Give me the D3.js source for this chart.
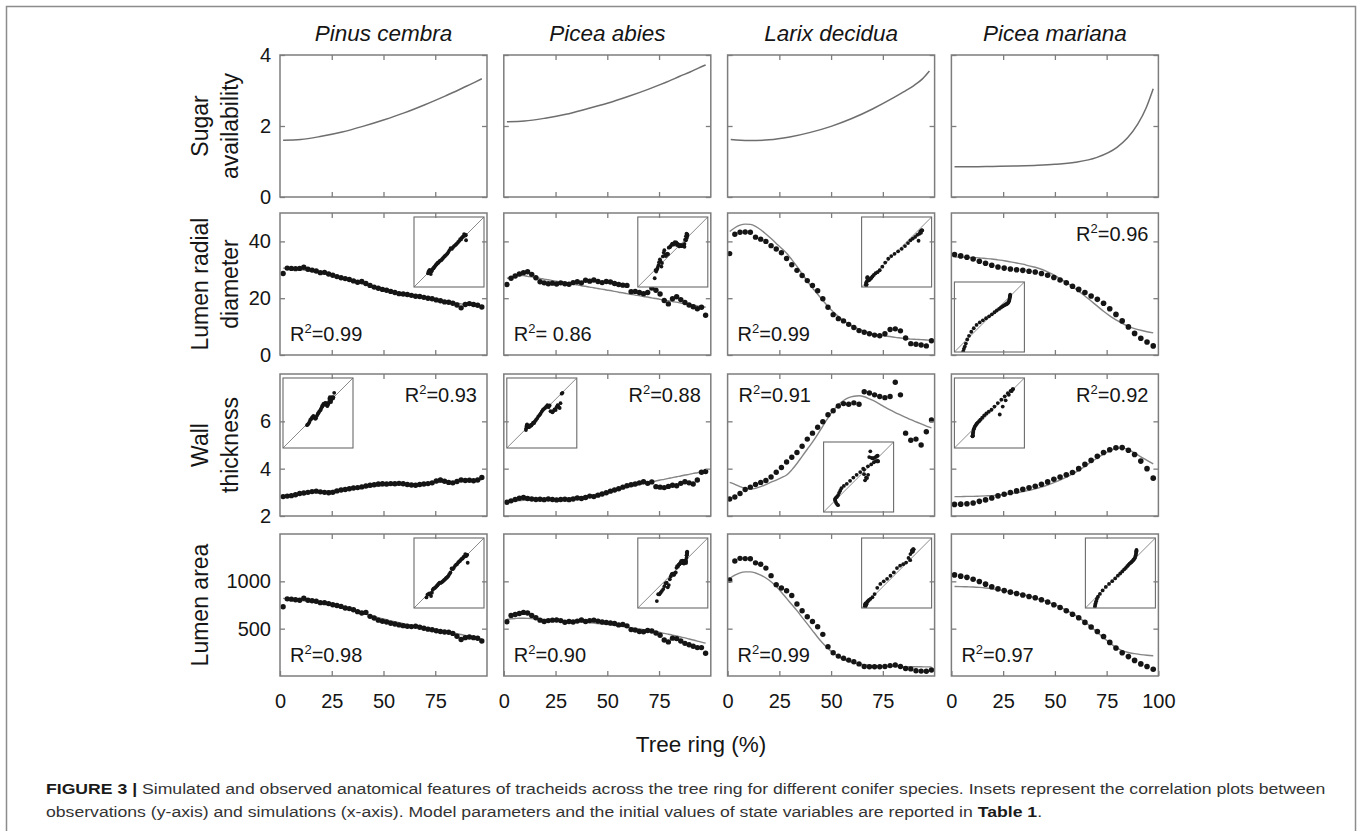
<!DOCTYPE html>
<html><head><meta charset="utf-8">
<script src="https://cdn.jsdelivr.net/npm/d3@7"></script>
<style>body{margin:0;background:#fff}svg{display:block}</style>
</head><body><svg id="chart" width="1362" height="831"></svg>
<script>
// ---------------- DATA ----------------
const species = ["Pinus cembra", "Picea abies", "Larix decidua", "Picea mariana"];
const rowLabels = [["Sugar", "availability"], ["Lumen radial", "diameter"], ["Wall", "thickness"], ["Lumen area"]];
const yDomains = [[0, 4], [0, 50], [2, 8], [0, 1500]];
const yTickLabels = [[0, 2, 4], [0, 20, 40], [2, 4, 6], [500, 1000]];
const xTickLabels = [0, 25, 50, 75];
const xTickLabelsLast = [0, 25, 50, 75, 100];
const xTitle = "Tree ring (%)";
const r2Values = [["=0.99", "= 0.86", "=0.99", "=0.96"], ["=0.93", "=0.88", "=0.91", "=0.92"], ["=0.98", "=0.90", "=0.99", "=0.97"]];

// sugar availability (simulated only)
const sugarX = [1.5, 10, 20, 30, 40, 50, 60, 70, 80, 85, 90, 94, 97.5];
const sugarPinusCembra = [1.60, 1.62, 1.71, 1.83, 1.99, 2.17, 2.37, 2.60, 2.85, 2.98, 3.12, 3.23, 3.33];
const sugarPiceaAbies = [2.12, 2.14, 2.22, 2.33, 2.48, 2.64, 2.83, 3.04, 3.27, 3.40, 3.52, 3.63, 3.72];
const sugarLarix = [1.62, 1.59, 1.61, 1.69, 1.82, 1.99, 2.21, 2.48, 2.79, 2.96, 3.14, 3.32, 3.55];
const sugarMariana = [0.85, 0.85, 0.86, 0.87, 0.89, 0.92, 0.98, 1.11, 1.40, 1.66, 2.05, 2.50, 3.05];

// tree-ring positions of observed cells
const xDense = [1.5,3.5,5.5,7.5,9.5,11.5,13.5,15.5,17.5,19.5,21.5,23.5,25.5,27.5,29.5,31.5,33.5,35.5,37.5,39.5,41.5,43.5,45.5,47.5,49.5,51.5,53.5,55.5,57.5,59.5,61.5,63.5,65.5,67.5,69.5,71.5,73.5,75.5,77.5,79.5,81.5,83.5,85.5,87.5,89.5,91.5,93.5,95.5,97.5];
const xLarix = [1,3.5,6,8.5,11,13.5,16,18.5,21,23.5,26,28.5,31,33.5,36,38.5,41,43.5,46,48.5,51,53.5,56,58.5,61,63.5,66,68.5,71,73.5,76,78.5,81,83.5,86,88.5,91,93.5,96,98.5];
const xMariana = [1.5,4.5,7.5,10.5,13.5,16.5,19.5,22.5,25.5,28.5,31.5,34.5,37.5,40.5,43.5,46.5,49.5,52.5,55.5,58.5,61.5,64.5,67.5,70.5,73.5,76.5,79.5,82.5,85.5,88.5,91.5,94.5,97.5];

// Pinus cembra
const pcLrdObs = [28.7,30.6,30.5,30.4,30.5,30.9,30.2,29.9,29.6,29.0,29.1,28.5,28.1,27.6,27.2,26.9,26.6,26.1,25.6,25.9,25.2,24.5,23.9,23.5,23.1,22.8,22.4,22.0,21.6,21.5,21.3,21.0,20.7,20.6,20.3,20.0,19.8,19.4,19.1,18.7,18.6,18.2,17.6,16.6,17.8,18.1,17.8,17.5,16.9];
const pcLrdSim = [30.6,30.5,30.4,30.3,30.1,29.9,29.7,29.4,29.1,28.8,28.5,28.2,27.8,27.4,27.0,26.7,26.3,25.9,25.5,25.1,24.7,24.3,23.9,23.5,23.1,22.8,22.4,22.1,21.8,21.5,21.2,20.9,20.7,20.4,20.2,20.0,19.7,19.5,19.2,19.0,18.8,18.5,18.3,18.0,17.8,17.6,17.4,17.2,17.0];
const pcWtObs = [2.82,2.84,2.86,2.90,2.95,2.97,3.00,3.03,3.05,3.02,3.00,2.98,3.00,3.06,3.10,3.12,3.15,3.18,3.20,3.23,3.27,3.30,3.32,3.35,3.36,3.35,3.37,3.36,3.38,3.36,3.33,3.31,3.30,3.33,3.35,3.37,3.40,3.48,3.52,3.47,3.42,3.40,3.46,3.52,3.50,3.51,3.49,3.52,3.63];
const pcWtSim = [2.85,2.87,2.89,2.91,2.93,2.95,2.97,2.99,3.01,3.02,3.04,3.06,3.08,3.10,3.12,3.13,3.15,3.17,3.19,3.20,3.22,3.23,3.25,3.26,3.28,3.29,3.30,3.31,3.32,3.33,3.34,3.35,3.36,3.37,3.38,3.39,3.40,3.41,3.42,3.43,3.44,3.45,3.46,3.47,3.48,3.49,3.50,3.51,3.53];
const pcLaObs = [732,815,812,805,800,822,800,795,790,775,775,765,752,745,735,718,712,700,680,665,672,630,612,590,578,570,558,550,540,532,525,522,525,515,505,495,488,478,470,465,462,450,420,385,405,412,405,398,370];
const pcLaSim = [820,815,810,805,800,795,789,782,775,767,759,750,741,731,721,710,699,688,676,664,652,640,628,616,605,594,583,573,563,553,544,535,527,519,511,503,495,487,479,471,463,455,447,438,429,420,410,400,390];

// Picea abies
const paLrdObs = [24.8,27.0,27.8,28.5,29.0,29.3,28.4,27.2,25.8,25.4,25.1,25.3,25.0,25.4,25.1,24.9,25.5,25.8,25.4,26.3,26.0,26.4,25.9,25.5,25.9,25.7,25.2,24.8,24.6,24.5,22.3,22.4,22.0,21.6,22.0,23.6,22.8,21.5,19.2,18.0,19.8,20.5,19.5,18.5,17.6,17.0,16.3,16.8,14.0];
const paLrdSim = [27.0,27.5,27.8,28.0,28.0,27.7,27.5,27.2,27.0,26.7,26.5,26.2,26.0,25.7,25.5,25.2,24.9,24.7,24.4,24.2,23.9,23.7,23.4,23.2,22.9,22.7,22.4,22.1,21.9,21.6,21.4,21.1,20.9,20.6,20.4,20.1,19.9,19.6,19.3,19.1,18.8,18.6,18.3,18.1,17.8,17.6,17.3,17.1,16.8];
const paWtObs = [2.58,2.64,2.70,2.75,2.78,2.74,2.72,2.70,2.71,2.69,2.72,2.70,2.68,2.70,2.71,2.69,2.72,2.76,2.74,2.78,2.84,2.82,2.88,2.93,2.98,3.05,3.10,3.15,3.22,3.28,3.32,3.35,3.40,3.45,3.38,3.44,3.24,3.22,3.20,3.25,3.30,3.28,3.38,3.45,3.40,3.35,3.52,3.85,3.88];
const paWtSim = [2.62,2.63,2.64,2.65,2.66,2.66,2.67,2.67,2.68,2.68,2.69,2.70,2.71,2.72,2.73,2.75,2.77,2.79,2.81,2.84,2.87,2.90,2.93,2.97,3.01,3.05,3.09,3.13,3.17,3.21,3.25,3.29,3.33,3.37,3.41,3.45,3.48,3.52,3.55,3.59,3.62,3.66,3.69,3.73,3.76,3.80,3.83,3.87,3.90];
const paLaObs = [573,640,650,660,672,665,640,615,590,575,585,590,592,585,568,575,570,580,592,575,585,590,580,570,565,560,555,540,545,530,490,485,470,468,480,475,455,430,380,360,400,395,370,345,330,315,300,300,240];
const paLaSim = [600,605,608,610,610,609,607,604,601,598,595,592,589,586,583,580,577,574,571,567,563,559,555,550,545,540,535,529,523,517,511,504,497,490,483,475,467,459,450,441,432,422,412,402,391,380,369,358,346];

// Larix decidua
const ldLrdObs = [35.7,42.5,43.2,43.3,43.2,41.5,40.8,40.0,38.5,37.3,36.0,34.0,31.8,29.8,28.0,26.2,24.5,22.6,19.8,16.8,14.2,12.8,12.0,10.8,9.7,8.6,8.0,7.5,7.0,6.8,7.5,9.0,9.2,8.5,6.0,4.0,3.8,3.5,3.2,5.0];
const ldLrdSim = [43.5,44.8,45.7,46.1,46.0,45.3,44.1,42.6,41.0,39.3,37.6,35.8,33.6,31.2,28.6,26.0,23.6,21.4,19.2,17.1,15.2,13.6,12.2,10.9,9.9,9.1,8.4,7.8,7.4,7.0,6.7,6.5,6.2,6.0,5.8,5.6,5.5,5.4,5.3,5.2];
const ldWtObs = [2.72,2.80,2.95,3.12,3.22,3.33,3.42,3.50,3.65,3.85,4.05,4.28,4.48,4.68,4.95,5.25,5.50,5.75,5.98,6.28,6.45,6.65,6.75,6.72,6.78,6.72,7.25,7.20,7.12,7.05,7.00,7.05,7.65,7.12,5.50,5.20,5.25,5.00,5.56,6.06];
const ldWtSim = [3.42,3.34,3.24,3.17,3.14,3.17,3.24,3.33,3.43,3.52,3.62,3.73,3.95,4.22,4.52,4.82,5.12,5.45,5.80,6.15,6.45,6.70,6.88,7.00,7.06,7.08,7.04,6.95,6.85,6.73,6.60,6.48,6.37,6.27,6.17,6.07,5.98,5.89,5.80,5.72];
const ldLaObs = [1014,1215,1243,1240,1238,1195,1180,1140,1060,965,930,900,850,760,690,626,575,520,440,310,245,210,187,168,151,128,100,98,97,98,100,110,116,100,80,75,55,52,50,63];
const ldLaSim = [1030,1065,1090,1100,1100,1088,1065,1035,995,945,885,820,755,690,620,550,480,410,345,290,245,205,175,155,140,128,120,114,110,106,104,102,100,99,98,98,97,97,96,96];

// Picea mariana
const pmLrdObs = [35.4,34.9,34.4,33.8,33.0,32.3,31.6,31.0,30.6,30.3,30.0,29.8,29.5,29.2,28.7,28.1,27.3,26.4,25.4,24.2,23.1,22.0,20.8,19.6,18.2,16.3,14.3,12.0,9.9,7.6,5.9,4.6,3.2];
const pmLrdSim = [34.5,34.5,34.4,34.3,34.2,34.0,33.8,33.5,33.2,32.8,32.4,32.0,31.4,30.9,30.2,29.3,28.2,26.9,25.6,24.1,22.5,20.8,19.0,17.2,15.4,13.8,12.4,11.1,10.1,9.3,8.7,8.2,7.8];
const pmWtObs = [2.49,2.50,2.52,2.55,2.62,2.68,2.76,2.85,2.92,2.99,3.06,3.13,3.19,3.26,3.34,3.44,3.55,3.65,3.74,3.84,4.00,4.18,4.35,4.52,4.68,4.80,4.88,4.89,4.78,4.60,4.32,4.00,3.60];
const pmWtSim = [2.82,2.82,2.83,2.83,2.84,2.85,2.86,2.88,2.91,2.94,2.98,3.03,3.08,3.15,3.22,3.31,3.41,3.52,3.64,3.78,3.93,4.10,4.28,4.45,4.61,4.75,4.85,4.88,4.80,4.66,4.50,4.35,4.20];
const pmLaObs = [1068,1055,1042,1022,998,970,942,920,902,886,872,855,840,827,806,782,752,724,690,653,615,566,518,470,418,355,295,245,205,165,128,100,72];
const pmLaSim = [945,944,942,940,936,930,922,912,900,887,873,858,842,824,804,782,757,728,695,658,617,570,518,462,405,350,302,268,248,236,226,219,214];

// inset (observed vs simulated) axis ranges
const insetDomains = [
  [[12, 37], [11, 35], [2, 53], [2.8, 42.6]],
  [[2.25, 4.0], [1.95, 4.4], [2.1, 8.5], [1.9, 5.45]],
  [[260, 990], [180, 790], [20, 1475], [47, 1277]]
];

const captionLine1Bold = "FIGURE 3 |";
const captionLine1 = " Simulated and observed anatomical features of tracheids across the tree ring for different conifer species. Insets represent the correlation plots between";
const captionLine2a = "observations (y-axis) and simulations (x-axis). Model parameters and the initial values of state variables are reported in ";
const captionLine2Bold = "Table 1";
const captionLine2b = ".";

// ---------------- ASSEMBLY ----------------
const sugarSeries = [sugarPinusCembra, sugarPiceaAbies, sugarLarix, sugarMariana];
const colX = [xDense, xDense, xLarix, xMariana];
const obsSeries = [
  [pcLrdObs, paLrdObs, ldLrdObs, pmLrdObs],
  [pcWtObs, paWtObs, ldWtObs, pmWtObs],
  [pcLaObs, paLaObs, ldLaObs, pmLaObs]
];
const simSeries = [
  [pcLrdSim, paLrdSim, ldLrdSim, pmLrdSim],
  [pcWtSim, paWtSim, ldWtSim, pmWtSim],
  [pcLaSim, paLaSim, ldLaSim, pmLaSim]
];

// ---------------- LAYOUT ----------------
const FONT = "'Liberation Sans', Arial, Helvetica, sans-serif";
const FRAME = "#7d7d7d";
const INK = "#151515";
const colLeft0 = 280, colStep = 223.8, panelW = 207, panelH = 142;
const rowTops = [55, 213, 374, 534];
const insetSize = 70;
const insetPlace = [["tr", "tr", "tr", "bl"], ["tl", "tl", "mid", "tl"], ["tr", "tr", "tr", "tr"]];
const insetOffsets = {tr: [134, 4], tl: [3, 4], bl: [3, 69], mid: [96, 68]};
const r2Place = [["bl", "bl", "bl", "tr"], ["tr", "tr", "tl", "tr"], ["bl", "bl", "bl", "bl"]];

const svg = d3.select("#chart");
svg.append("rect").attr("width", 1362).attr("height", 831).attr("fill", "#fff");
svg.append("rect").attr("x", 6.5).attr("y", 6.5).attr("width", 1349).attr("height", 900)
  .attr("fill", "none").attr("stroke", "#8c8c8c").attr("stroke-width", 1.5);

const x = d3.scaleLinear().domain([0, 100]).range([0, panelW]);

function styleAxis(g) {
  g.select(".domain").remove();
  g.selectAll(".tick line").attr("stroke", FRAME).attr("stroke-width", 1.3);
  g.selectAll("text").attr("font-family", FONT).attr("font-size", 20).attr("fill", INK);
  g.attr("font-family", FONT);
}

for (let c = 0; c < 4; c++) {
  const left = colLeft0 + c * colStep;
  svg.append("text").attr("x", left + panelW / 2).attr("y", 41).attr("text-anchor", "middle")
    .attr("font-family", FONT).attr("font-style", "italic").attr("font-size", 22.5).attr("fill", INK)
    .text(species[c]);

  for (let r = 0; r < 4; r++) {
    const top = rowTops[r];
    const y = d3.scaleLinear().domain(yDomains[r]).range([panelH, 0]);
    const g = svg.append("g").attr("transform", `translate(${left},${top})`);
    g.append("rect").attr("width", panelW).attr("height", panelH).attr("fill", "#fff");

    if (r === 0) {
      const pts = sugarX.map((v, i) => [v, sugarSeries[c][i]]);
      g.append("path").datum(pts).attr("fill", "none").attr("stroke", "#6e6e6e").attr("stroke-width", 1.5)
        .attr("d", d3.line().x(d => x(d[0])).y(d => y(d[1])).curve(d3.curveMonotoneX));
    } else {
      const k = r - 1;
      const xs = colX[c], obs = obsSeries[k][c], sim = simSeries[k][c];
      const n = Math.min(xs.length, obs.length, sim.length);
      const rows = d3.range(n).map(i => ({x: xs[i], obs: obs[i], sim: sim[i]}));
      g.append("path").datum(rows).attr("fill", "none").attr("stroke", "#858585").attr("stroke-width", 1.4)
        .attr("d", d3.line().x(d => x(d.x)).y(d => y(d.sim)).curve(d3.curveMonotoneX));
      g.append("g").selectAll("circle").data(rows).join("circle")
        .attr("cx", d => x(d.x)).attr("cy", d => y(d.obs)).attr("r", c === 3 ? 2.8 : 2.7).attr("fill", INK);

      // inset: observed (y) vs simulated (x)
      const off = insetOffsets[insetPlace[k][c]];
      const dom = insetDomains[k][c];
      const s = d3.scaleLinear().domain(dom).range([0, insetSize]);
      const sy = d3.scaleLinear().domain(dom).range([insetSize, 0]);
      const ig = g.append("g").attr("transform", `translate(${off[0]},${off[1]})`);
      const clipId = `clip-${k}-${c}`;
      ig.append("clipPath").attr("id", clipId).append("rect").attr("width", insetSize).attr("height", insetSize);
      ig.append("rect").attr("width", insetSize).attr("height", insetSize).attr("fill", "#fff");
      const inner = ig.append("g").attr("clip-path", `url(#${clipId})`);
      inner.append("line").attr("x1", s(dom[0])).attr("y1", sy(dom[0]))
        .attr("x2", s(dom[1])).attr("y2", sy(dom[1]))
        .attr("stroke", "#8a8a8a").attr("stroke-width", 1);
      inner.selectAll("circle").data(rows).join("circle")
        .attr("cx", d => s(d.sim)).attr("cy", d => sy(d.obs)).attr("r", 1.9).attr("fill", INK);
      ig.append("rect").attr("width", insetSize).attr("height", insetSize).attr("fill", "none")
        .attr("stroke", "#6a6a6a").attr("stroke-width", 1.1);

      // R² label
      const place = r2Place[k][c];
      const t = g.append("text").attr("font-family", FONT).attr("font-size", 20).attr("fill", INK);
      if (place === "bl") t.attr("x", 10).attr("y", panelH - 14);
      else if (place === "tl") t.attr("x", 11).attr("y", 28);
      else t.attr("x", panelW - 10).attr("y", 28).attr("text-anchor", "end");
      t.append("tspan").text("R");
      t.append("tspan").attr("font-size", 13).attr("dy", -8).text("2");
      t.append("tspan").attr("dy", 8).text(r2Values[k][c]);
    }

    g.append("rect").attr("x", 0).attr("y", 0).attr("width", panelW).attr("height", panelH)
      .attr("fill", "none").attr("stroke", FRAME).attr("stroke-width", 1.5);

    g.append("g").call(d3.axisTop(x).tickValues([25, 50, 75]).tickSize(-5).tickFormat(""))
      .call(gg => styleAxis(gg));
    const bottomVals = r === 3 ? (c === 3 ? xTickLabelsLast : xTickLabels) : [25, 50, 75];
    g.append("g").attr("transform", `translate(0,${panelH})`)
      .call(d3.axisBottom(x).tickValues(bottomVals).tickSize(-5).tickPadding(18)
        .tickFormat(r === 3 ? d3.format("d") : ""))
      .call(gg => styleAxis(gg));
    g.append("g").call(d3.axisLeft(y).tickValues(yTickLabels[r]).tickSize(-5).tickPadding(9)
        .tickFormat(c === 0 ? d3.format("d") : ""))
      .call(gg => styleAxis(gg));
    g.append("g").attr("transform", `translate(${panelW},0)`)
      .call(d3.axisRight(y).tickValues(yTickLabels[r]).tickSize(-5).tickFormat(""))
      .call(gg => styleAxis(gg));

    if (c === 0) {
      const cy = top + panelH / 2;
      const baseX = [208, 238];
      rowLabels[r].forEach((ln, i) => {
        svg.append("text").attr("transform", `translate(${baseX[i]},${cy}) rotate(-90)`)
          .attr("text-anchor", "middle").attr("font-family", FONT).attr("font-size", 23).attr("fill", INK)
          .text(ln);
      });
    }
  }
}

svg.append("text").attr("x", 701).attr("y", 752).attr("text-anchor", "middle")
  .attr("font-family", FONT).attr("font-size", 22.5).attr("fill", INK).text(xTitle);

// caption: both lines share one horizontal scale fitted to line 1
function captionText(yPos, parts) {
  const t = svg.append("text").attr("x", 46).attr("y", yPos).attr("font-family", FONT)
    .attr("font-size", 15.5).attr("fill", "#333");
  parts.forEach(p => t.append("tspan").attr("font-weight", p.bold ? "bold" : "normal")
    .attr("fill", p.bold ? "#1a1a1a" : "#333").text(p.text));
  return t;
}
const cap1 = captionText(794, [{text: captionLine1Bold, bold: true}, {text: captionLine1}]);
const cap2 = captionText(817, [{text: captionLine2a}, {text: captionLine2Bold, bold: true}, {text: captionLine2b}]);
const w1 = cap1.node().getComputedTextLength();
const sx = w1 > 0 ? 1280 / w1 : 1;
[cap1, cap2].forEach(t => t.attr("transform", `translate(46,0) scale(${sx},1) translate(-46,0)`));
</script>
</body></html>
